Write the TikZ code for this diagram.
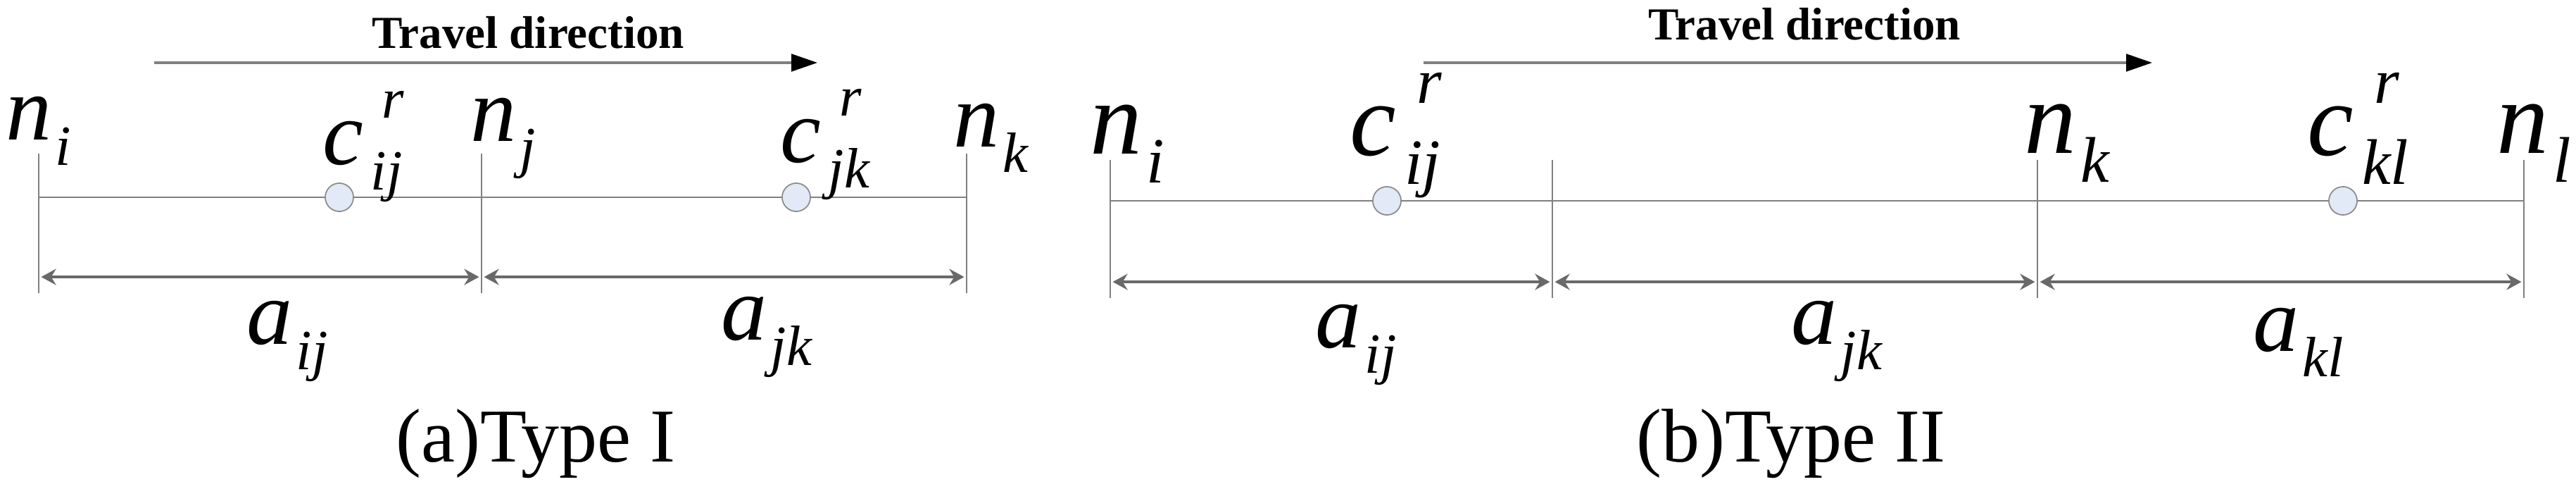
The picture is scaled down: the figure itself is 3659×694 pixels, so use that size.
\documentclass[tikz,border=0pt]{standalone}
\usepackage{fontspec}
\setmainfont{Liberation Serif}
\usepackage{graphicx}
\usetikzlibrary{arrows.meta,positioning}
\definecolor{linegray}{RGB}{128,128,128}
\definecolor{dimgray}{RGB}{105,105,105}
\definecolor{cellfill}{RGB}{225,234,246}
\definecolor{celldraw}{RGB}{140,140,140}
\newcommand{\sbs}[2]{#1\hspace{0.04em}\raisebox{-0.28em}{\scalebox{0.62}{#2}}}
\newcommand{\supsub}[3]{#1\rlap{\hspace{0.2em}\raisebox{0.5em}{\scalebox{0.62}{#2}}}\hspace{0.08em}\raisebox{-0.28em}{\scalebox{0.62}{#3}}}
\begin{document}
\begin{tikzpicture}[x=0.01cm,y=-0.01cm]
\tikzset{
    road/.style={draw=linegray, line width=0.7pt},
    tick/.style={draw=linegray, line width=0.45pt},
    span/.style={draw=dimgray, line width=1pt,
        {Stealth[length=6pt,width=6.5pt,inset=2pt]}-{Stealth[length=6pt,width=6.5pt,inset=2pt]},
        shorten <=1pt, shorten >=1pt},
    travel/.style={draw=linegray, line width=0.9pt, -{Triangle[length=10.5pt,width=7pt,color=black]}},
    cell/.style={circle, draw=celldraw, fill=cellfill, line width=0.5pt,
        minimum size=11.4pt, inner sep=0pt},
    sym/.style={inner sep=0pt, anchor=base west, font=\fontsize{37}{37}\selectfont\itshape},
    symb/.style={sym, font=\fontsize{42}{42}\selectfont\itshape},
    caption/.style={inner sep=0pt, anchor=base, font=\fontsize{30.7}{31}\selectfont},
    heading/.style={inner sep=0pt, anchor=base, font=\fontsize{18.5}{19}\selectfont\bfseries}
}
\useasboundingbox (0,0) rectangle (3659,694);

% (a) Type I
\coordinate (ta0) at (219,89);
\coordinate (ta1) at (1161,89);
\draw[travel] (ta0) -- (ta1);
\node[heading] (tda) at (750,68) {Travel direction};

\coordinate (ani) at (55,280);
\coordinate (anj) at (684,280);
\coordinate (ank) at (1373,280);
\draw[road] (ani) -- (anj) -- (ank);
\foreach \p in {ani,anj,ank}
    \draw[tick] ([yshift=0.62cm]\p) -- ([yshift=-1.36cm]\p);
\draw[span] ([yshift=-1.13cm]ani) -- ([yshift=-1.13cm]anj);
\draw[span] ([yshift=-1.13cm]anj) -- ([yshift=-1.13cm]ank);
\node[cell] (acij) at (482,280) {};
\node[cell] (acjk) at (1131,280) {};

\node[sym] (lani) at (8,198) {\sbs{n}{i}};
\node[sym] (lacij) at (458,233) {\supsub{c}{r}{ij}};
\node[sym] (lanj) at (668,200) {\sbs{n}{j}};
\node[sym] (lacjk) at (1108,230) {\supsub{c}{r}{jk}};
\node[sym] (lank) at (1354,208) {\sbs{n}{k}};
\node[sym] (laij) at (350,488) {\sbs{a}{ij}};
\node[sym] (lajk) at (1024,482) {\sbs{a}{jk}};
\node[caption] (capa) at (761,655) {(a)Type I};

% (b) Type II
\coordinate (tb0) at (2022,89);
\coordinate (tb1) at (3057,89);
\draw[travel] (tb0) -- (tb1);
\node[heading] (tdb) at (2563,57) {Travel direction};

\coordinate (bni) at (1577,285);
\coordinate (bnj) at (2205,285);
\coordinate (bnk) at (2894,285);
\coordinate (bnl) at (3585,285);
\draw[road] (bni) -- (bnj) -- (bnk) -- (bnl);
\foreach \p in {bni,bnj,bnk,bnl}
    \draw[tick] ([yshift=0.58cm]\p) -- ([yshift=-1.38cm]\p);
\draw[span] ([yshift=-1.15cm]bni) -- ([yshift=-1.15cm]bnj);
\draw[span] ([yshift=-1.15cm]bnj) -- ([yshift=-1.15cm]bnk);
\draw[span] ([yshift=-1.15cm]bnk) -- ([yshift=-1.15cm]bnl);
\node[cell] (bcij) at (1970,285) {};
\node[cell] (bckl) at (3328,285) {};

\node[symb] (lbni) at (1548,218) {\sbs{n}{i}};
\node[symb] (lbcij) at (1917,220) {\supsub{c}{r}{ij}};
\node[symb] (lbnk) at (2875,217) {\sbs{n}{k}};
\node[symb] (lbckl) at (3277,220) {\supsub{c}{r}{kl}};
\node[symb] (lbnl) at (3546,217) {\sbs{n}{l}};
\node[sym] (lbij) at (1868,493) {\sbs{a}{ij}};
\node[sym] (lbjk) at (2544,488) {\sbs{a}{jk}};
\node[sym] (lbkl) at (3200,498) {\sbs{a}{kl}};
\node[caption] (capb) at (2544,655) {(b)Type II};
\end{tikzpicture}
\end{document}
